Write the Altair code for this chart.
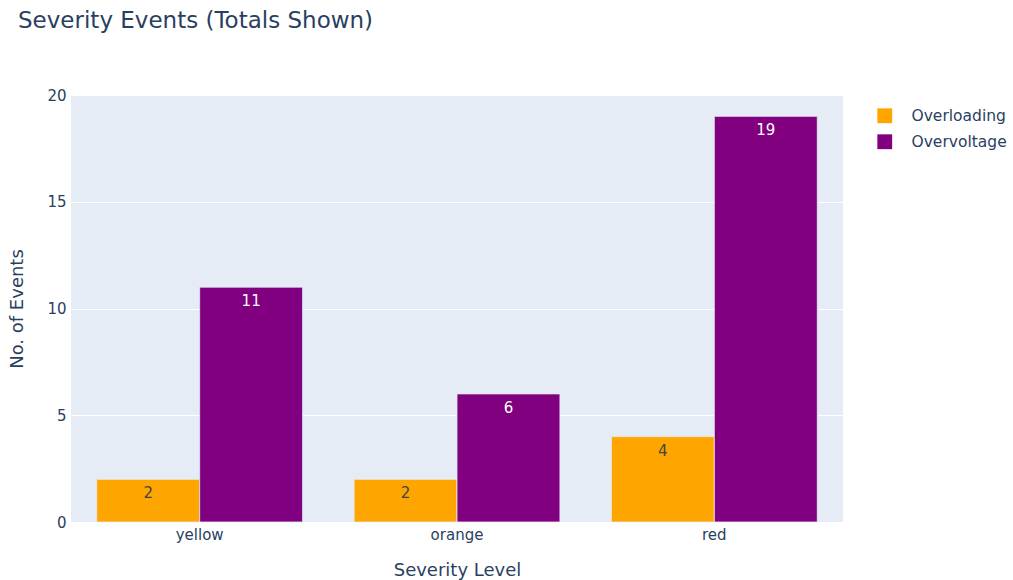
import altair as alt
import pandas as pd

# Event counts per severity level and event type
levels = ["yellow", "orange", "red"]
series_names = ["Overloading", "Overvoltage"]
overloading = [2, 2, 4]
overvoltage = [11, 6, 19]

rows = []
for i, lvl in enumerate(levels):
    rows.append({"level": lvl, "series": "Overloading", "count": overloading[i]})
    rows.append({"level": lvl, "series": "Overvoltage", "count": overvoltage[i]})
df = pd.DataFrame(rows)

FONT = "DejaVu Sans"
INK = "#2a3f5f"

x_enc = alt.X(
    "level:N",
    sort=levels,
    title="Severity Level",
    scale=alt.Scale(paddingInner=0.2, paddingOuter=0.1),
    axis=alt.Axis(labelAngle=0, labelPadding=5, titlePadding=19),
)
y_enc = alt.Y(
    "count:Q",
    title="No. of Events",
    scale=alt.Scale(domain=[0, 20], nice=False),
    axis=alt.Axis(values=[0, 5, 10, 15, 20], labelPadding=5, titlePadding=20),
)
x_off = alt.XOffset("series:N", sort=series_names, scale=alt.Scale(paddingInner=0, paddingOuter=0))

bars = alt.Chart(df).mark_bar(stroke="#E5ECF6", strokeWidth=0.8).encode(
    x=x_enc,
    y=y_enc,
    xOffset=x_off,
    color=alt.Color(
        "series:N",
        scale=alt.Scale(domain=series_names, range=["#FFA500", "#800080"]),
        legend=alt.Legend(
            title=None,
            orient="none",
            legendX=806,
            legendY=13,
            symbolType="square",
            symbolSize=220,
            symbolStrokeWidth=0,
            labelFontSize=15.5,
            labelColor=INK,
            labelFont=FONT,
            labelOffset=19,
            rowPadding=9,
        ),
    ),
)

labels = alt.Chart(df).mark_text(
    baseline="middle", dy=14, fontSize=15, font=FONT
).encode(
    x=alt.X("level:N", sort=levels),
    y=alt.Y("count:Q"),
    xOffset=x_off,
    text="count:Q",
    fill=alt.condition(alt.datum.series == "Overloading", alt.value("#444444"), alt.value("white")),
)

chart = (
    alt.layer(bars, labels)
    .properties(
        width=772,
        height=427,
        title=alt.TitleParams(
            "Severity Events (Totals Shown)",
            anchor="start",
            frame="group",
            dx=-53,
            offset=55,
            fontSize=23,
            fontWeight="normal",
            color=INK,
            font=FONT,
        ),
        padding={"left": 71, "top": 95, "right": 170, "bottom": 58},
        autosize=alt.AutoSizeParams(type="none"),
        background="white",
    )
    .configure_view(fill="#E5ECF6", stroke=None)
    .configure_axis(
        domain=False,
        ticks=False,
        grid=True,
        gridColor="white",
        gridWidth=1,
        labelFont=FONT,
        labelFontSize=15,
        labelColor=INK,
        titleFont=FONT,
        titleFontSize=18,
        titleFontWeight="normal",
        titleColor=INK,
    )
    .configure_axisX(grid=False)
)

chart.save("out.html", embed_options={"renderer": "svg", "actions": False})
